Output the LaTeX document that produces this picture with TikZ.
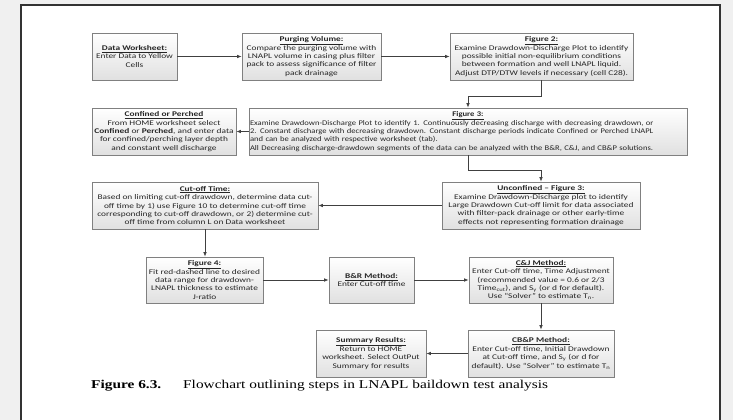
\documentclass[tikz,border=0pt]{standalone}
\usepackage{fontspec}
\usetikzlibrary{arrows.meta,shadows}
\newfontfamily\boxfont{Carlito}[FakeStretch=1.3, Ligatures=TeX]
\newfontfamily\boxfontn{Carlito}[FakeStretch=1.19, Ligatures=TeX]
\newfontfamily\capfont{Liberation Serif}[FakeStretch=1.28, Ligatures=TeX]
\newcommand{\ttl}[1]{\underline{\textbf{#1}}}
\tikzset{
  x=1pt,y=-1pt,
  fbox/.style={draw=black!50, line width=0.8pt, top color=white, bottom color=black!12,
    drop shadow={opacity=0.25, shadow xshift=1.2pt, shadow yshift=-1.2pt},
    align=center, inner sep=1pt, text=black!85,
    font=\boxfont\fontsize{7.2}{8.4}\selectfont},
  arr/.style={draw=black!75, line width=0.7pt, -{Latex[length=4.5pt,width=3.6pt]}},
}
\begin{document}
\begin{tikzpicture}
\useasboundingbox (0,0) rectangle (733,420);
\fill[black!6] (0,0) rectangle (733,420);
\fill[white] (21,5) rectangle (720,420);
\draw[black!80, line width=1.3pt] (21,421) -- (21,5) -- (720,5) -- (720,421);

\node[fbox, minimum width=85, minimum height=47] (n1) at (134.5,56.5)
  {\ttl{Data Worksheet:}\\Enter Data to Yellow\\Cells};
\node[fbox, minimum width=139, minimum height=47] (n2) at (311.5,56.5)
  {\ttl{Purging Volume:}\\Compare the purging volume with\\LNAPL volume in casing plus filter\\pack to assess significance of filter\\pack drainage};
\node[fbox, minimum width=183, minimum height=47] (n3) at (541.5,56.5)
  {\ttl{Figure 2:}\\Examine Drawdown-Discharge Plot to identify\\possible initial non-equilibrium conditions\\between formation and well LNAPL liquid.\\Adjust DTP/DTW levels if necessary (cell C28).};
\node[fbox, minimum width=144, minimum height=47] (n4) at (164,131.5)
  {\ttl{Confined or Perched}\\From HOME worksheet select\\\textbf{Confined} or \textbf{Perched}, and enter data\\for confined/perching layer depth\\and constant well discharge};
\node[fbox, minimum width=438, minimum height=47, text width=436, align=left,
      font=\boxfontn\fontsize{7.2}{8.4}\selectfont] (n5) at (468,131.5)
  {\hyphenpenalty=10000 \makebox[\linewidth][c]{\ttl{Figure 3:}}\\Examine Drawdown-Discharge Plot to identify 1. Continuously decreasing discharge with decreasing drawdown, or\\2. Constant discharge with decreasing drawdown. Constant discharge periods indicate Confined or Perched LNAPL\\and can be analyzed with respective worksheet (tab).\\All Decreasing discharge-drawdown segments of the data can be analyzed with the B\&R, C\&J, and CB\&P solutions.};
\node[fbox, minimum width=226, minimum height=47] (n6) at (205,205.5)
  {\ttl{Cut-off Time:}\\Based on limiting cut-off drawdown, determine data cut-\\off time by 1) use Figure 10 to determine cut-off time\\corresponding to cut-off drawdown, or 2) determine cut-\\off time from column L on Data worksheet};
\node[fbox, minimum width=198, minimum height=47] (n7) at (541,205.5)
  {\ttl{Unconfined -- Figure 3:}\\Examine Drawdown-Discharge plot to identify\\Large Drawdown Cut-off limit for data associated\\with filter-pack drainage or other early-time\\effects not representing formation drainage};
\node[fbox, minimum width=117, minimum height=46] (n8) at (204.5,280)
  {\ttl{Figure 4:}\\Fit red-dashed line to desired\\data range for drawdown-\\LNAPL thickness to estimate\\J-ratio};
\node[fbox, minimum width=85, minimum height=46] (n9) at (371.5,280)
  {\ttl{B\&R Method:}\\Enter Cut-off time};
\node[fbox, minimum width=144, minimum height=46] (n10) at (541,280)
  {\ttl{C\&J Method:}\\Enter Cut-off time, Time Adjustment\\(recommended value = 0.6 or 2/3\\Time\textsubscript{cut}), and S\textsubscript{y} (or d for default).\\Use ``Solver'' to estimate T\textsubscript{n}.};
\node[fbox, minimum width=146, minimum height=47] (n11) at (541,353.5)
  {\ttl{CB\&P Method:}\\Enter Cut-off time, Initial Drawdown\\at Cut-off time, and S\textsubscript{y} (or d for\\default). Use ``Solver'' to estimate T\textsubscript{n}};
\node[fbox, minimum width=110, minimum height=47] (n12) at (371,353.5)
  {\ttl{Summary Results:}\\Return to HOME\\worksheet. Select OutPut\\Summary for results};

\draw[arr] (n1) -- (n2);
\draw[arr] (n2) -- (n3);
\draw[arr] (n3.south) -- (n3.south |- 0,96) -| (n5.north);
\draw[arr] (n5) -- (n4);
\draw[arr] (n5.south) -- (n5.south |- 0,170) -| (n7.north);
\draw[arr] (n7) -- (n6);
\draw[arr] (n6.south) -- (n6.south |- n8.north);
\draw[arr] (n8) -- (n9);
\draw[arr] (n9) -- (n10);
\draw[arr] (n10) -- (n11);
\draw[arr] (n11) -- (n12);

\node[anchor=base west, inner sep=0, font=\capfont\fontsize{12}{14}\selectfont] (cap1) at (91,388) {\textbf{Figure 6.3.}};
\node[anchor=base west, inner sep=0, font=\capfont\fontsize{12}{14}\selectfont] (cap2) at (183,388) {Flowchart outlining steps in LNAPL baildown test analysis};
\end{tikzpicture}
\end{document}
